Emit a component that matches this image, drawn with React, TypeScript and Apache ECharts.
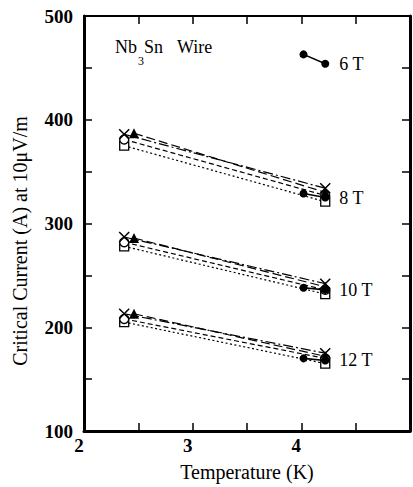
import React, { useEffect, useRef } from "react";
import * as echarts from "echarts";

// ---- data ----
const fieldNames = ["8 T", "10 T", "12 T"];
const tLow = 2.37;
const tLowTriangle = 2.46;
const tHigh = 4.22;
const tFilledLow = 4.02;

const crossLow = [386, 287, 213];
const crossHigh = [334, 242, 175];
const triangleLow = [387, 286, 213];
const triangleHigh = [330, 239, 172];
const circleLow = [381, 282, 208];
const circleHigh = [327, 236, 170];
const squareLow = [375, 278, 205];
const squareHigh = [321, 232, 165];

const filledNames = ["6 T", "8 T", "10 T", "12 T"];
const filledLow = [463, 329, 238, 170];
const filledHigh = [454, 325, 236, 168];

const xMin = 2;
const xMax = 5;
const xStep = 0.5;
const yMin = 100;
const yMax = 500;
const yStep = 50;

const xAxisTitle = "Temperature (K)";
const yAxisTitle = "Critical Current (A) at 10\u03bcV/m";

const FONT = "Times New Roman";

export default function App() {
  const ref = useRef<HTMLDivElement>(null);

  useEffect(() => {
    if (!ref.current) return;
    const chart = echarts.init(ref.current, null, { renderer: "svg" });

    const markerDefs = [
      { low: squareLow, high: squareHigh, tl: tLow, symbol: "rect", size: 9, fill: "#fff", bw: 1.3, dash: [2, 2.5] },
      { low: circleLow, high: circleHigh, tl: tLow, symbol: "circle", size: 9, fill: "#fff", bw: 1.3, dash: [5, 3] },
      { low: crossLow, high: crossHigh, tl: tLow, symbol: "path://M0,0L10,10M10,0L0,10", size: 10, fill: "#000", bw: 1.5, dash: [10, 3, 2, 3] },
      { low: triangleLow, high: triangleHigh, tl: tLowTriangle, symbol: "triangle", size: 10, fill: "#000", bw: 0, dash: [9, 4] },
    ];

    const series: any[] = [];
    markerDefs.forEach((m) => {
      fieldNames.forEach((_, i) => {
        series.push({
          type: "line",
          silent: true,
          data: [
            [m.tl, m.low[i]],
            [tHigh, m.high[i]],
          ],
          symbol: m.symbol,
          symbolSize: m.size,
          showSymbol: true,
          lineStyle: { color: "#000", width: 1.2, type: m.dash },
          itemStyle: { color: m.fill, borderColor: "#000", borderWidth: m.bw },
        });
      });
    });

    filledNames.forEach((name, i) => {
      series.push({
        type: "line",
        silent: true,
        data: [
          [tFilledLow, filledLow[i]],
          {
            value: [tHigh, filledHigh[i]],
            label: {
              show: true,
              position: "right",
              distance: 10,
              formatter: name,
              color: "#000",
              fontFamily: FONT,
              fontSize: 18,
            },
          },
        ],
        symbol: "circle",
        symbolSize: 8,
        showSymbol: true,
        lineStyle: { color: "#000", width: 1.6, type: "solid" },
        itemStyle: { color: "#000" },
      });
    });

    const axisCommon = {
      type: "value" as const,
      axisLine: { show: true, lineStyle: { color: "#000", width: 3 } },
      axisTick: { show: true, inside: true, length: 8, lineStyle: { color: "#000", width: 1.5 } },
      splitLine: { show: false },
    };

    chart.setOption({
      animation: false,
      backgroundColor: "#fff",
      textStyle: { fontFamily: FONT },
      grid: { left: 84, top: 16, width: 336, height: 417 },
      xAxis: [
        {
          ...axisCommon,
          min: xMin,
          max: xMax,
          interval: xStep,
          position: "bottom",
          axisLabel: {
            color: "#000",
            fontFamily: FONT,
            fontSize: 19,
            fontWeight: "bold",
            margin: 5,
            padding: [0, 10, 0, 0],
            formatter: (v: number) => (Number.isInteger(v) && v < xMax ? String(v) : ""),
          },
          name: xAxisTitle,
          nameLocation: "middle",
          nameGap: 31,
          nameTextStyle: { color: "#000", fontFamily: FONT, fontSize: 20 },
        },
        {
          ...axisCommon,
          min: xMin,
          max: xMax,
          interval: xStep,
          position: "top",
          axisLine: { show: true, lineStyle: { color: "#000", width: 2 } },
          axisLabel: { show: false },
        },
      ],
      yAxis: [
        {
          ...axisCommon,
          min: yMin,
          max: yMax,
          interval: yStep,
          position: "left",
          axisLabel: {
            color: "#000",
            fontFamily: FONT,
            fontSize: 19,
            fontWeight: "bold",
            margin: 11,
            formatter: (v: number) => (v % 100 === 0 ? String(v) : ""),
          },
        },
        {
          ...axisCommon,
          min: yMin,
          max: yMax,
          interval: yStep,
          position: "right",
          axisLabel: { show: false },
        },
      ],
      graphic: [
        {
          type: "text",
          x: 20,
          y: 241,
          rotation: Math.PI / 2,
          style: {
            text: yAxisTitle,
            fill: "#000",
            fontFamily: FONT,
            fontSize: 20,
            align: "center",
            verticalAlign: "middle",
          },
        },
        {
          type: "group",
          children: [
            { type: "text", x: 115, y: 38, style: { text: "Nb", fill: "#000", fontFamily: FONT, fontSize: 18, verticalAlign: "top" } },
            { type: "text", x: 138, y: 55, style: { text: "3", fill: "#000", fontFamily: FONT, fontSize: 12, verticalAlign: "top" } },
            { type: "text", x: 144, y: 38, style: { text: "Sn", fill: "#000", fontFamily: FONT, fontSize: 18, verticalAlign: "top" } },
            { type: "text", x: 177, y: 38, style: { text: "Wire", fill: "#000", fontFamily: FONT, fontSize: 18, verticalAlign: "top" } },
          ],
        },
      ],
      series,
    });

    return () => chart.dispose();
  }, []);

  return (
    <div
      ref={ref}
      style={{ position: "absolute", left: 0, top: 0, width: 413, height: 487, background: "#fff" }}
    />
  );
}
